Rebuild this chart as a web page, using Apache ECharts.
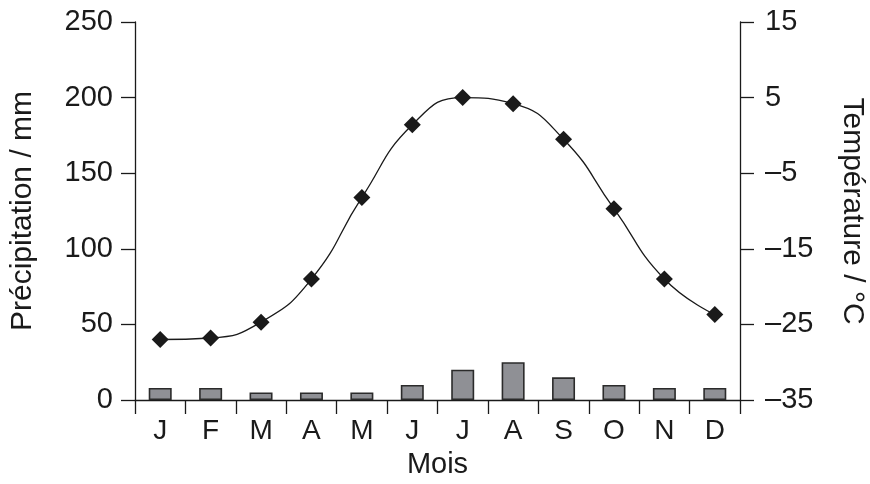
<!DOCTYPE html>
<html><head><meta charset="utf-8">
<script src="https://cdn.jsdelivr.net/npm/echarts@6/dist/echarts.min.js"></script>
<style>html,body{margin:0;padding:0;background:#fff}#c{width:870px;height:484px}</style>
</head><body><div id="c"></div>
<script>
const months = ['J','F','M','A','M','J','J','A','S','O','N','D'];
const precipitation = [8, 8, 5, 5, 5, 10, 20, 25, 15, 10, 8, 8];
const temperature = [-27.0, -26.8, -24.7, -19.0, -8.2, 1.4, 5.0, 4.2, -0.5, -9.7, -19.0, -23.7];
const precipAxis = { min: 0, max: 250, interval: 50 };
const tempAxis = { min: -35, max: 15, interval: 10 };

const FONT = "'Liberation Sans', Arial, Helvetica, sans-serif";
const INK = '#1a1a1a';
const chart = echarts.init(document.getElementById('c'), null, { renderer: 'canvas' });
const axisLine = { show: true, onZero: false, lineStyle: { color: INK, width: 1.3 } };
const axisTick = { show: true, inside: false, length: 14, lineStyle: { color: INK, width: 1.3 } };
chart.setOption({
  animation: false,
  backgroundColor: '#ffffff',
  grid: { left: 135, right: 130, top: 22, bottom: 84, containLabel: false, outerBoundsMode: 'none' },
  xAxis: {
    type: 'category',
    data: months,
    boundaryGap: true,
    name: 'Mois',
    nameLocation: 'middle',
    nameGap: 50,
    nameTextStyle: { color: INK, fontSize: 29, fontFamily: FONT },
    axisLine: axisLine,
    axisTick: Object.assign({ alignWithLabel: false, interval: 0 }, axisTick),
    axisLabel: { color: INK, fontSize: 28, fontFamily: FONT, margin: 17, interval: 0 },
    splitLine: { show: false }
  },
  yAxis: [
    {
      type: 'value',
      position: 'left',
      min: precipAxis.min, max: precipAxis.max, interval: precipAxis.interval,
      name: 'Précipitation / mm',
      nameLocation: 'middle',
      nameGap: 97,
      nameRotate: 90,
      nameTextStyle: { color: INK, fontSize: 30, fontFamily: FONT },
      axisLine: axisLine,
      axisTick: axisTick,
      axisLabel: { color: INK, fontSize: 29, fontFamily: FONT, margin: 22 },
      splitLine: { show: false }
    },
    {
      type: 'value',
      position: 'right',
      min: tempAxis.min, max: tempAxis.max, interval: tempAxis.interval,
      name: 'Température / °C',
      nameLocation: 'middle',
      nameGap: 97,
      nameRotate: -90,
      nameTextStyle: { color: INK, fontSize: 30, fontFamily: FONT },
      axisLine: axisLine,
      axisTick: axisTick,
      axisLabel: {
        color: INK, fontSize: 29, fontFamily: FONT, margin: 25,
        formatter: v => (v < 0 ? '\u2013' + Math.abs(v) : String(v))
      },
      splitLine: { show: false }
    }
  ],
  series: [
    {
      name: 'Précipitation',
      type: 'bar',
      yAxisIndex: 0,
      data: precipitation,
      barWidth: 23,
      itemStyle: { color: '#8f9095', borderColor: '#2b2b2b', borderWidth: 1.6 },
      z: 2
    },
    {
      name: 'Température',
      type: 'line',
      yAxisIndex: 1,
      data: temperature,
      smooth: 0.5,
      symbol: 'diamond',
      symbolSize: 17,
      lineStyle: { color: INK, width: 1.3 },
      itemStyle: { color: INK },
      z: 3
    }
  ]
});
</script></body></html>
